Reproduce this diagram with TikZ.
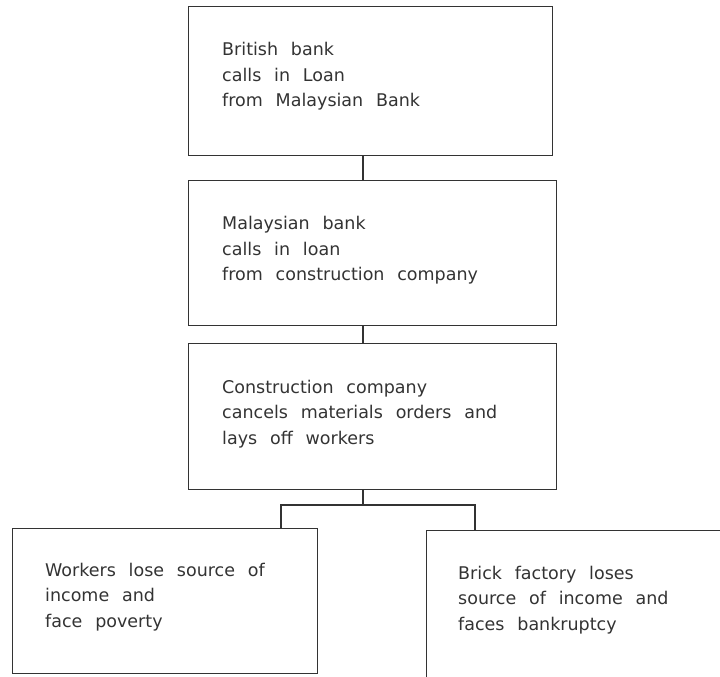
\documentclass[tikz,border=0pt]{standalone}
\usepackage{fontspec}
\setmainfont[WordSpace=2.3]{DejaVu Sans}
\begin{document}
\begin{tikzpicture}[x=1pt,y=-1pt,
  box/.style={draw=black!80, line width=1.1pt, rectangle, inner sep=0pt},
  txt/.style={anchor=north west, align=left, inner sep=0pt, text=black!80,
    font=\fontsize{17.5}{25.5}\selectfont},
  link/.style={draw=black!80, line width=1.1pt}]
\useasboundingbox (0,0) rectangle (720,677);
\node[box, minimum width=364pt, minimum height=149pt, anchor=north west] (b1) at (188,6) {};
\node[box, minimum width=368pt, minimum height=145pt, anchor=north west] (b2) at (188,180) {};
\node[box, minimum width=368pt, minimum height=146pt, anchor=north west] (b3) at (188,343) {};
\node[box, minimum width=305pt, minimum height=145pt, anchor=north west] (b4) at (12,528) {};
\node[box, minimum width=310pt, minimum height=160pt, anchor=north west] (b5) at (426,530) {};
\node[txt] (t1) at (222,42.5) {British bank\\calls in Loan\\from Malaysian Bank};
\node[txt] (t2) at (222,216.5) {Malaysian bank\\calls in loan\\from construction company};
\node[txt] (t3) at (222,379.5) {Construction company\\cancels materials orders and\\lays off workers};
\node[txt] (t4) at (45,562.5) {Workers lose source of\\income and\\face poverty};
\node[txt] (t5) at (458,565.5) {Brick factory loses\\source of income and\\faces bankruptcy};
\coordinate (j) at (363,505);
\coordinate (jl) at (281,505);
\coordinate (jr) at (475,505);
\draw[link] (b1.south -| j) -- (b2.north -| j);
\draw[link] (b2.south -| j) -- (b3.north -| j);
\draw[link] (b3.south -| j) -- (j);
\draw[link] (b4.north -| jl) -- (jl) -- (jr) -- (b5.north -| jr);
\end{tikzpicture}
\end{document}
